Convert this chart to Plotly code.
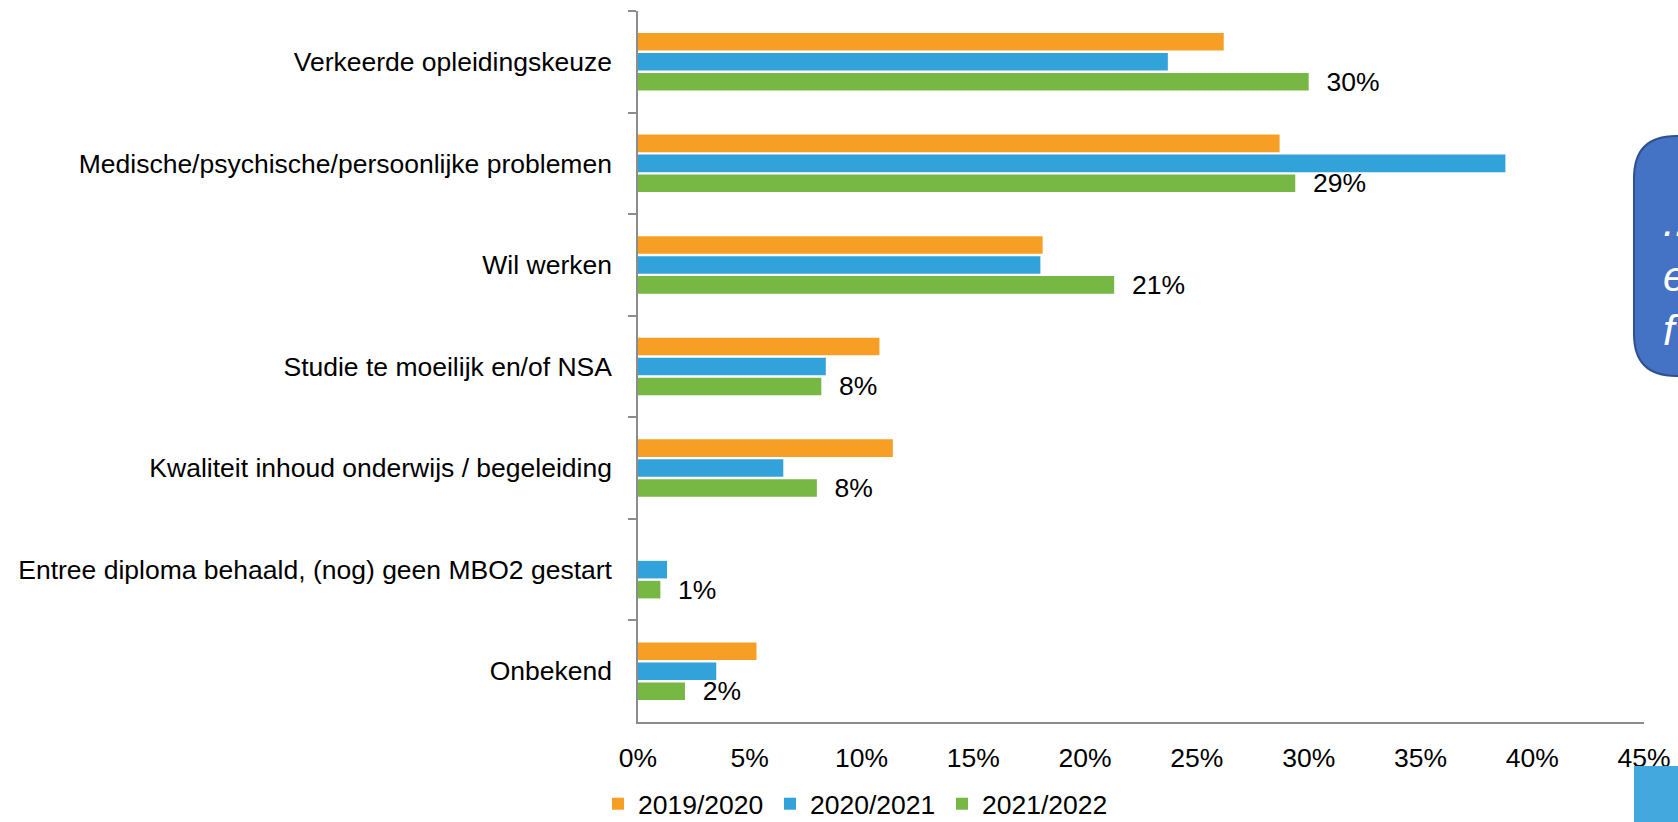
import plotly.graph_objects as go

# categorieen (van boven naar beneden)
redenen = [
    "Verkeerde opleidingskeuze",
    "Medische/psychische/persoonlijke problemen",
    "Wil werken",
    "Studie te moeilijk en/of NSA",
    "Kwaliteit inhoud onderwijs / begeleiding",
    "Entree diploma behaald, (nog) geen MBO2 gestart",
    "Onbekend",
]

jaren = ["2019/2020", "2020/2021", "2021/2022"]

# percentages per schooljaar
pct_2019 = [26.2, 28.7, 18.1, 10.8, 11.4, 0.0, 5.3]
pct_2020 = [23.7, 38.8, 18.0, 8.4, 6.5, 1.3, 3.5]
pct_2021 = [30.0, 29.4, 21.3, 8.2, 8.0, 1.0, 2.1]

x_ticks = [0, 5, 10, 15, 20, 25, 30, 35, 40, 45]

kleuren = ["#F79F25", "#32A2DA", "#77B744"]

# canvas / plotgebied in pixels
W, H = 1678, 822
L, R, T, B = 638, 34, 11, 100
PW, PH = W - L - R, H - T - B


def px_x(p):
    return (p - L) / PW


def px_y(p):
    return (H - B - p) / PH


FONT = "Liberation Sans, Arial, sans-serif"
FS = 26.5

fig = go.Figure()
for naam, vals, kleur in zip(jaren, [pct_2019, pct_2020, pct_2021], kleuren):
    labels = None
    if naam == "2021/2022":
        # alleen de laatste reeks krijgt labels
        labels = ["\u00a0\u00a0" + f"{round(v)}%" for v in vals]
    fig.add_trace(go.Bar(
        y=redenen, x=vals, name=naam, orientation="h",
        marker=dict(color=kleur, line=dict(width=0)),
        text=labels, textposition="outside" if labels else None,
        textfont=dict(size=FS, color="#000000", family=FONT),
        constraintext="none", cliponaxis=False,
    ))

fig.update_layout(
    width=W, height=H,
    margin=dict(l=L, r=R, t=T, b=B, autoexpand=False),
    paper_bgcolor="white", plot_bgcolor="white",
    barmode="group", bargap=0.41, bargroupgap=0.12,
    font=dict(family=FONT, size=FS, color="#000000"),
    showlegend=True,
    legend=dict(
        orientation="h", x=px_x(598), xanchor="left",
        y=px_y(804), yanchor="middle", borderwidth=0,
        traceorder="normal", font=dict(size=FS),
        entrywidth=127, entrywidthmode="pixels",
    ),
)

fig.update_xaxes(
    range=[0, 45], tickvals=x_ticks, ticktext=[f"{v}%" for v in x_ticks],
    showgrid=False, zeroline=False, automargin=False,
    showline=True, linecolor="#8C8C8C", linewidth=1.5,
    ticks="outside", ticklen=11, tickcolor="rgba(0,0,0,0)",
    tickfont=dict(size=FS),
)
fig.update_yaxes(
    autorange="reversed", showgrid=False, zeroline=False, automargin=False,
    showline=True, linecolor="#8C8C8C", linewidth=1.5,
    ticks="outside", ticklen=8, tickcolor="#8C8C8C", tickwidth=1.5,
    tickson="boundaries", ticklabelstandoff=19,
    tickfont=dict(size=FS),
)

# tekstballon rechts (afgesneden)
x0, x1, y0, y1, r = 1634, 1800, 136, 376, 42
rx, ry = r / PW, r / PH
X0, X1, Y0, Y1 = px_x(x0), px_x(x1), px_y(y0), px_y(y1)
pad = (f"M {X0 + rx} {Y0} L {X1} {Y0} L {X1} {Y1} L {X0 + rx} {Y1} "
       f"Q {X0} {Y1} {X0} {Y1 + ry} L {X0} {Y0 - ry} Q {X0} {Y0} {X0 + rx} {Y0} Z")
fig.add_shape(type="path", path=pad, xref="paper", yref="paper",
              fillcolor="#4472C4", line=dict(color="#2F528F", width=2), layer="above")
fig.add_annotation(
    text="...<br>e<br>f", xref="paper", yref="paper",
    x=px_x(1661), y=px_y(276), xanchor="left", yanchor="middle",
    align="left", showarrow=False,
    font=dict(size=42, color="white", family=FONT, style="italic"),
)

# blauw blokje rechtsonder
fig.add_shape(type="rect", xref="paper", yref="paper",
              x0=px_x(1634), x1=px_x(1700), y0=px_y(766), y1=px_y(840),
              fillcolor="#43A8DE", line=dict(width=0), layer="above")

# geen body-marge, zodat de figuur precies in het venster past
fig.write_html(
    "out.html",
    config={"displayModeBar": False},
    post_script="document.body.style.margin='0';document.body.style.overflow='hidden';",
)
